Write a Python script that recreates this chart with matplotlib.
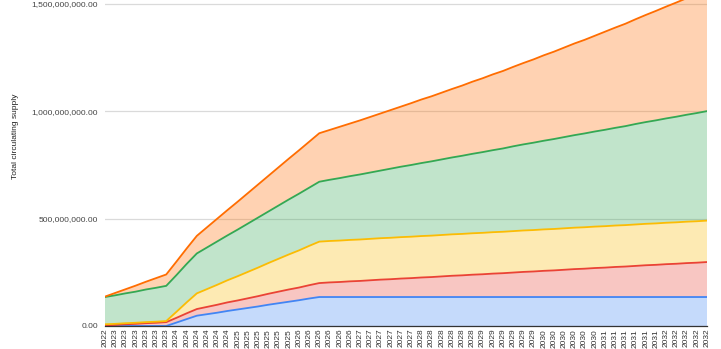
import matplotlib.pyplot as plt
import matplotlib.ticker as mticker
import numpy as np

plt.rcParams["font.family"] = ["Liberation Sans", "DejaVu Sans"]

# bimonthly periods, Dec 2022 .. Oct 2032
periods = ["2022"] + [str(y) for y in range(2023, 2032) for _ in range(6)] + ["2032"] * 5

# supply per allocation, millions of tokens
blue = [0, 0, 0, 0, 0, 0, 0, 16, 32, 48,
        55, 62, 70, 77, 84, 91, 99, 106, 113, 120, 128, 135] + [135] * 38
red = [3, 5, 8, 10, 13, 15, 18, 22, 27, 31,
       34, 37, 40, 42, 45, 48, 51, 54, 57, 59, 62, 65,
       68, 70, 73, 75, 78, 81, 83, 86, 88, 91, 93, 96, 99, 101, 104, 106, 109, 111,
       114, 117, 119, 122, 124, 127, 130, 132, 135, 137, 140, 142, 145, 148, 150, 153,
       155, 158, 160, 163]
yellow = [5, 5, 5, 5, 5, 5, 5, 28, 51, 73,
          83, 93, 103, 113, 123, 133, 143, 153, 163, 173, 183, 193] + [193] * 38
green = [127, 133, 139, 145, 152, 158, 164, 171, 179, 186,
         194, 202, 209, 217, 225, 233, 240, 248, 256, 264, 271, 279,
         285, 291, 297, 303, 309, 315, 322, 328, 334, 340, 346, 352, 358, 364, 370, 376,
         382, 388, 395, 401, 407, 413, 419, 425, 431, 437, 443, 449, 455, 461, 468, 474,
         480, 486, 492, 498, 504, 510]
orange = [2, 11, 19, 28, 36, 45, 53, 63, 72, 82,
          94, 106, 118, 130, 142, 154, 166, 178, 190, 202, 214, 226,
          232, 239, 245, 252, 259, 266, 273, 280, 288, 296, 303, 311, 319, 327, 336, 344,
          353, 361, 370, 379, 388, 398, 407, 417, 427, 436, 446, 457, 467, 477, 488, 499,
          510, 521, 532, 543, 554, 566]

series = [blue, red, yellow, green, orange]
line_colors = ["#4285f4", "#ea4335", "#fbbc04", "#34a853", "#ff6d01"]

x = np.arange(len(periods))
vals = np.array(series, dtype=float) * 1e6

fig = plt.figure(figsize=(7.21, 3.49), dpi=100)
ax = fig.add_axes([105 / 721, 23 / 349, 602 / 721, 326 / 349])

ax.stackplot(x, vals, colors=line_colors, alpha=0.3, linewidth=0)
tops = np.cumsum(vals, axis=0)
for top, c in zip(tops, line_colors):
    ax.plot(x, top, color=c, lw=1.3, solid_joinstyle="round")

ax.set_xlim(0, len(periods) - 1)
ax.set_ylim(0, 1.5e9 * 326 / 322)
ax.set_yticks([0, 5e8, 1e9, 1.5e9])
ax.yaxis.set_major_formatter(mticker.FuncFormatter(lambda v, p: f"{v:,.2f}"))
ax.grid(axis="y", color="#dadada", lw=0.9)
ax.set_axisbelow(True)

ax.set_xticks(x)
ax.set_xticklabels(periods, rotation=90, fontsize=6, color="#333333")
ax.tick_params(axis="x", length=0, pad=2)
ax.tick_params(axis="y", length=0, pad=5, labelsize=6, labelcolor="#444444")

for s in ["top", "right", "left"]:
    ax.spines[s].set_visible(False)
ax.spines["bottom"].set_color("#333333")
ax.spines["bottom"].set_linewidth(0.9)

fig.text(16 / 721, 1 - 136 / 349, "Total circulating supply", rotation=90,
         fontsize=6, color="#222222", ha="center", va="center")

fig.savefig("out.png", dpi=100)
